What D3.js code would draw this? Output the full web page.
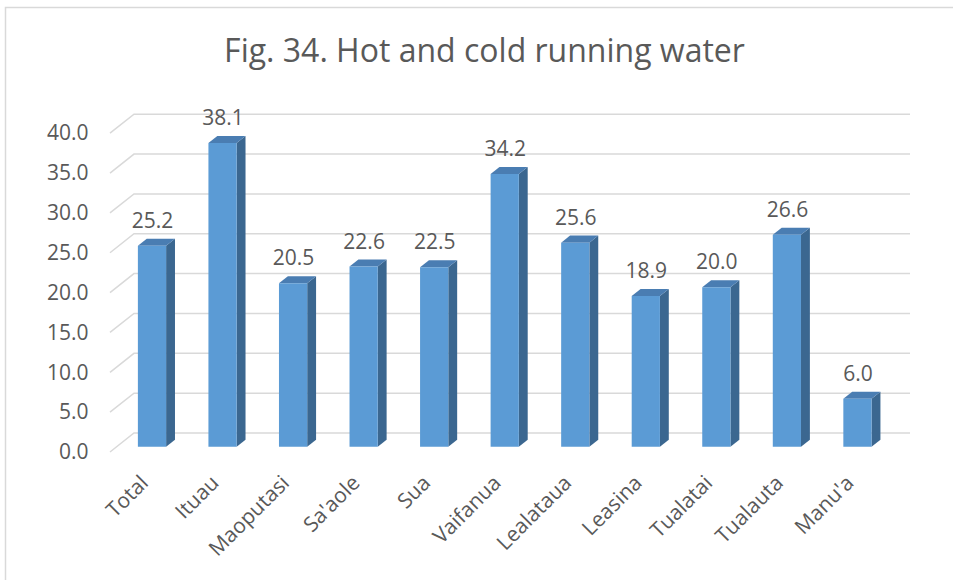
<!DOCTYPE html>
<html>
<head>
<meta charset="utf-8">
<script src="https://cdn.jsdelivr.net/npm/d3@7"></script>
<style>
  html, body { margin: 0; padding: 0; background: #fff; }
  svg { display: block; }
  text { font-family: "Open Sans", sans-serif; fill: #595959; }
</style>
</head>
<body>
<svg id="chart" width="953" height="580"></svg>
<script>
const categories = ["Total", "Ituau", "Maoputasi", "Sa'aole", "Sua", "Vaifanua", "Lealataua", "Leasina", "Tualatai", "Tualauta", "Manu'a"];
const values = [25.2, 38.1, 20.5, 22.6, 22.5, 34.2, 25.6, 18.9, 20.0, 26.6, 6.0];
const yTicks = [0, 5, 10, 15, 20, 25, 30, 35, 40];
const title = "Fig. 34. Hot and cold running water";

const W = 953, H = 580;
const svg = d3.select("#chart");

// frame
svg.append("rect")
  .attr("x", 5.5).attr("y", 7.5)
  .attr("width", W + 10).attr("height", H + 10)
  .attr("fill", "none").attr("stroke", "#d9d9d9").attr("stroke-width", 1.5);

// title
svg.append("text")
  .attr("x", 484.5).attr("y", 61.5)
  .attr("text-anchor", "middle")
  .style("font-size", "32px")
  .text(title);

// 3D geometry
const DX = 24, DY = -19;            // depth offset of back wall
const x = d3.scaleBand().domain(categories).range([110, 886]).paddingInner(0.6).paddingOuter(0.3);
const y = d3.scaleLinear().domain([0, 40]).range([452, 133.2]);
const proj = (px, v, z) => [px + DX * z, y(v) + DY * z];

// gridlines: left wall diagonals + back wall horizontals
const grid = svg.append("g").attr("stroke", "#d9d9d9").attr("stroke-width", 1.5).attr("fill", "none");
yTicks.forEach(t => {
  const a = proj(110, t, 0), b = proj(110, t, 1), c = proj(886, t, 1);
  grid.append("path").attr("d", `M${a[0]},${a[1]}L${b[0]},${b[1]}L${c[0]},${c[1]}`);
});

// bars
const zF = 0.28, zB = 0.65;
const bars = svg.append("g");
categories.forEach((c, i) => {
  const v = values[i];
  const x0 = x(c), x1 = x(c) + x.bandwidth();
  const fTL = proj(x0, v, zF), fTR = proj(x1, v, zF), fBR = proj(x1, 0, zF), fBL = proj(x0, 0, zF);
  const bTL = proj(x0, v, zB), bTR = proj(x1, v, zB), bBR = proj(x1, 0, zB);
  const pts = a => a.map(p => p.join(",")).join(" ");
  bars.append("polygon").attr("points", pts([fTR, bTR, bBR, fBR])).attr("fill", "#3b6790");
  bars.append("polygon").attr("points", pts([fTL, bTL, bTR, fTR])).attr("fill", "#4a7db2");
  bars.append("polygon").attr("points", pts([fTL, fTR, fBR, fBL])).attr("fill", "#5b9bd5");
  // value label
  svg.append("text")
    .attr("x", (fTL[0] + fTR[0]) / 2 + 0.5)
    .attr("y", fTL[1] - 18)
    .attr("text-anchor", "middle")
    .style("font-size", "21px")
    .text(d3.format(".1f")(v));
});

// y axis labels
const yAxis = d3.axisLeft(y).tickValues(yTicks).tickFormat(d3.format(".1f")).tickSize(0).tickPadding(0);
const gy = svg.append("g").attr("transform", "translate(88.5,0)").call(yAxis);
gy.select(".domain").remove();
gy.selectAll("text").style("font-size", "21px").attr("fill", "#595959").style("font-family", "'Open Sans', sans-serif");

// x axis labels
const xAxis = d3.axisBottom(x).tickSize(0).tickPadding(0);
const gx = svg.append("g").attr("transform", "translate(0,479)").call(xAxis);
gx.select(".domain").remove();
gx.selectAll("text")
  .style("font-size", "21px").attr("fill", "#595959").style("font-family", "'Open Sans', sans-serif")
  .attr("text-anchor", "end")
  .attr("dy", "0.35em")
  .attr("transform", "translate(-1,0) rotate(-45)")
  .attr("y", 0);
</script>
</body>
</html>
